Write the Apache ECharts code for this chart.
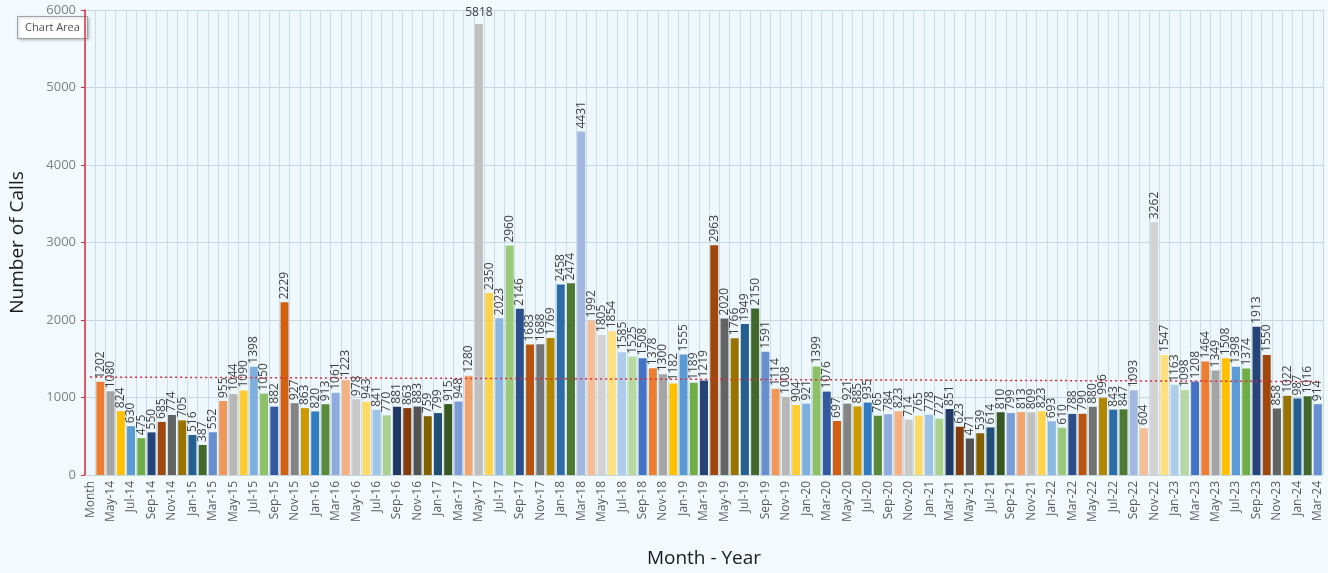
<!DOCTYPE html>
<html>
<head>
<meta charset="utf-8">
<title>Number of Calls</title>
<script src="https://cdn.jsdelivr.net/npm/echarts@6/dist/echarts.min.js"></script>
<style>
  html, body { margin: 0; padding: 0; background: #f3fafd; }
  #chart { width: 1328px; height: 573px; }
</style>
</head>
<body>
<div id="chart"></div>
<script>
// months Apr-14 .. Mar-24, first category is the stray "Month" header
const months = ['Month',
  'Apr-14', 'May-14', 'Jun-14', 'Jul-14', 'Aug-14', 'Sep-14', 'Oct-14', 'Nov-14', 'Dec-14',
  'Jan-15', 'Feb-15', 'Mar-15', 'Apr-15', 'May-15', 'Jun-15', 'Jul-15', 'Aug-15', 'Sep-15', 'Oct-15', 'Nov-15', 'Dec-15',
  'Jan-16', 'Feb-16', 'Mar-16', 'Apr-16', 'May-16', 'Jun-16', 'Jul-16', 'Aug-16', 'Sep-16', 'Oct-16', 'Nov-16', 'Dec-16',
  'Jan-17', 'Feb-17', 'Mar-17', 'Apr-17', 'May-17', 'Jun-17', 'Jul-17', 'Aug-17', 'Sep-17', 'Oct-17', 'Nov-17', 'Dec-17',
  'Jan-18', 'Feb-18', 'Mar-18', 'Apr-18', 'May-18', 'Jun-18', 'Jul-18', 'Aug-18', 'Sep-18', 'Oct-18', 'Nov-18', 'Dec-18',
  'Jan-19', 'Feb-19', 'Mar-19', 'Apr-19', 'May-19', 'Jun-19', 'Jul-19', 'Aug-19', 'Sep-19', 'Oct-19', 'Nov-19', 'Dec-19',
  'Jan-20', 'Feb-20', 'Mar-20', 'Apr-20', 'May-20', 'Jun-20', 'Jul-20', 'Aug-20', 'Sep-20', 'Oct-20', 'Nov-20', 'Dec-20',
  'Jan-21', 'Feb-21', 'Mar-21', 'Apr-21', 'May-21', 'Jun-21', 'Jul-21', 'Aug-21', 'Sep-21', 'Oct-21', 'Nov-21', 'Dec-21',
  'Jan-22', 'Feb-22', 'Mar-22', 'Apr-22', 'May-22', 'Jun-22', 'Jul-22', 'Aug-22', 'Sep-22', 'Oct-22', 'Nov-22', 'Dec-22',
  'Jan-23', 'Feb-23', 'Mar-23', 'Apr-23', 'May-23', 'Jun-23', 'Jul-23', 'Aug-23', 'Sep-23', 'Oct-23', 'Nov-23', 'Dec-23',
  'Jan-24', 'Feb-24', 'Mar-24'
]

const calls = [null,
  1202, 1080, 824, 630, 475, 550, 685, 774, 705,
  516, 387, 552, 955, 1044, 1090, 1398, 1050, 882, 2229, 927, 863,
  820, 913, 1061, 1223, 978, 943, 841, 770, 881, 863, 883, 759,
  799, 915, 948, 1280, 5818, 2350, 2023, 2960, 2146, 1683, 1688, 1769,
  2458, 2474, 4431, 1992, 1805, 1854, 1585, 1525, 1508, 1378, 1300, 1182,
  1555, 1189, 1219, 2963, 2020, 1766, 1949, 2150, 1591, 1114, 1008, 904,
  921, 1399, 1076, 697, 921, 885, 935, 765, 784, 823, 714, 765,
  778, 727, 851, 623, 471, 539, 614, 810, 799, 813, 809, 823,
  693, 610, 788, 790, 880, 996, 843, 847, 1093, 604, 3262, 1547,
  1163, 1098, 1208, 1464, 1349, 1508, 1398, 1374, 1913, 1550, 858, 1022,
  987, 1016, 914
]

const yTicks = [0, 1000, 2000, 3000, 4000, 5000, 6000]

// office theme accents + the lum variations excel cycles through (vary colours by point)
const accents = ['#4472C4', '#ED7D31', '#A5A5A5', '#FFC000', '#5B9BD5', '#70AD47']
const variations = [[1, 0], [0.6, 0], [0.8, 0.2], [0.8, 0], [0.6, 0.4], [0.5, 0], [0.7, 0.3], [0.7, 0], [0.5, 0.5]]

function lum (hex, mod, off) {
  let r = parseInt(hex.slice(1, 3), 16) / 255
  let g = parseInt(hex.slice(3, 5), 16) / 255
  let b = parseInt(hex.slice(5, 7), 16) / 255
  let max = Math.max(r, g, b), min = Math.min(r, g, b)
  let h = 0, s = 0, l = (max + min) / 2
  if (max !== min) {
    let d = max - min
    s = l > 0.5 ? d / (2 - max - min) : d / (max + min)
    if (max === r) h = (g - b) / d + (g < b ? 6 : 0)
    else if (max === g) h = (b - r) / d + 2
    else h = (r - g) / d + 4
    h /= 6
  }
  l = Math.min(1, l * mod + off)
  let hue = (p, q, t) => {
    if (t < 0) t += 1
    if (t > 1) t -= 1
    if (t < 1 / 6) return p + (q - p) * 6 * t
    if (t < 1 / 2) return q
    if (t < 2 / 3) return p + (q - p) * (2 / 3 - t) * 6
    return p
  }
  let out
  if (s === 0) out = [l, l, l]
  else {
    let q = l < 0.5 ? l * (1 + s) : l + s - l * s
    let p = 2 * l - q
    out = [hue(p, q, h + 1 / 3), hue(p, q, h), hue(p, q, h - 1 / 3)]
  }
  return '#' + out.map(v => Math.round(v * 255).toString(16).padStart(2, '0')).join('')
}

function pointColor (i) {
  let v = variations[Math.floor(i / 6) % variations.length]
  return lum(accents[i % 6], v[0], v[1])
}

// linear trendline over the monthly values
let pts = calls.map((v, i) => [i, v]).filter(p => p[1] != null)
let n = pts.length
let sx = 0, sy = 0, sxy = 0, sxx = 0
pts.forEach(p => { sx += p[0]; sy += p[1]; sxy += p[0] * p[1]; sxx += p[0] * p[0] })
let slope = (n * sxy - sx * sy) / (n * sxx - sx * sx)
let icpt = (sy - slope * sx) / n
let trend = months.map((m, i) => +(icpt + slope * i).toFixed(1))

let yMax = yTicks[yTicks.length - 1]

let barData = calls.map((v, i) => {
  let item = { value: v, itemStyle: { color: pointColor(i) } }
  // the tallest bar has no room above it, excel laid its label flat
  if (v != null && v > yMax * 0.9) {
    item.label = { rotate: 0, align: 'center', verticalAlign: 'bottom', distance: 6 }
  }
  return item
})

let chart = echarts.init(document.getElementById('chart'))

chart.setOption({
  backgroundColor: '#f3fafd',
  animation: false,
  textStyle: { fontFamily: '"Open Sans", "Noto Sans", sans-serif' },
  grid: { left: 78, right: 5, top: 10, bottom: 87, backgroundColor: '#eef8fc', show: true, borderWidth: 0 },
  xAxis: {
    type: 'category',
    data: months,
    name: 'Month - Year',
    nameLocation: 'middle',
    nameGap: 74,
    nameTextStyle: { fontSize: 19, color: '#1a1a1a' },
    axisLine: { lineStyle: { color: '#c8d6de' } },
    axisTick: { show: false },
    axisLabel: { interval: 1, rotate: 90, fontSize: 12, color: '#595959', margin: 6 },
    splitLine: { show: true, interval: 0, lineStyle: { color: '#cadde7', width: 1 } }
  },
  yAxis: {
    type: 'value',
    min: yTicks[0],
    max: yMax,
    interval: 1000,
    name: 'Number of Calls',
    nameLocation: 'middle',
    nameGap: 58,
    nameTextStyle: { fontSize: 19, color: '#1a1a1a' },
    axisLine: { show: true, lineStyle: { color: '#e0283c', width: 1.5 } },
    axisTick: { show: true, length: 4, lineStyle: { color: '#e0283c' } },
    axisLabel: { fontSize: 13, color: '#7f7f7f', margin: 9, formatter: v => String(v) },
    splitLine: { lineStyle: { color: '#c5d7e1' } }
  },
  series: [
    {
      type: 'bar',
      barCategoryGap: '22%',
      data: barData,
      label: {
        show: true,
        position: 'top',
        rotate: 90,
        align: 'left',
        verticalAlign: 'middle',
        distance: 3,
        fontSize: 12,
        color: '#404040'
      }
    },
    {
      type: 'line',
      data: trend,
      symbol: 'none',
      silent: true,
      lineStyle: { color: '#e0283c', width: 1.5, type: [2, 3] },
      z: 5
    }
  ],
  graphic: [
    {
      type: 'group',
      left: 17,
      top: 16,
      children: [
        { type: 'rect', shape: { x: 0, y: 0, width: 70, height: 22 },
          style: { fill: '#ffffff', stroke: '#9aa4aa', lineWidth: 1, shadowBlur: 3, shadowColor: 'rgba(0,0,0,0.25)', shadowOffsetX: 1, shadowOffsetY: 1 } },
        { type: 'text', x: 35, y: 11,
          style: { text: 'Chart Area', fill: '#505050', fontSize: 11, align: 'center', verticalAlign: 'middle', fontFamily: '"Open Sans", sans-serif' } }
      ]
    }
  ]
})
</script>
</body>
</html>
